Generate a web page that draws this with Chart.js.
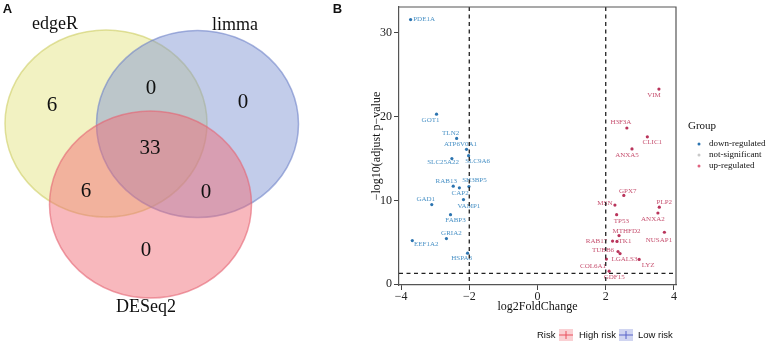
<!DOCTYPE html>
<html><head><meta charset="utf-8">
<script src="https://cdn.jsdelivr.net/npm/chart.js@4.4.1/dist/chart.umd.min.js"></script>
<style>
html,body{margin:0;padding:0;background:#fff;}
#wrap{position:relative;width:769px;height:343px;overflow:hidden;background:#fff;}
</style></head><body>
<div id="wrap">
<div style="position:absolute;left:0;top:0;width:320px;height:343px"><canvas id="venn" width="320" height="343"></canvas></div>
<div style="position:absolute;left:320px;top:0;width:449px;height:343px"><canvas id="volc" width="449" height="343"></canvas></div>
</div>
<script>
// ---------------- DATA ----------------
const vennSets = ['edgeR', 'limma', 'DESeq2'];
// regions: edgeR only, edgeR∩limma, limma only, all three, edgeR∩DESeq2, limma∩DESeq2, DESeq2 only
const vennCounts = [6, 0, 0, 33, 6, 0, 0];

const downGenes = ['PDE1A','GOT1','TLN2','ATP6V0A1','SLC25A22','SLC9A6','RAB13','SH3BP5','CAP2','VAMP1','GAD1','FABP3','GRIA2','EEF1A2','HSPA8'];
const downLogFC = [-3.72,-2.96,-2.37,-2.08,-2.51,-2.02,-2.47,-2.01,-2.29,-2.17,-3.10,-2.55,-2.67,-3.67,-2.05];
const downLogP  = [31.6,20.3,17.4,16.1,15.0,15.35,11.7,11.65,11.5,10.1,9.5,8.3,5.45,5.2,3.7];

const upGenes = ['VIM','H3F3A','CLIC1','ANXA5','GPX7','MSN','PLP2','ANXA2','TP53','MTHFD2','NUSAP1','RAB17','TK1','TUBB6','LGALS3','LYZ','COL6A1','GDF15'];
const upLogFC = [3.56,2.62,3.22,2.77,2.53,2.27,3.57,3.53,2.32,2.39,3.72,2.20,2.33,2.36,2.42,2.98,2.02,2.10];
const upLogP  = [23.3,18.65,17.6,16.15,10.6,9.45,9.2,8.5,8.3,5.8,6.2,5.15,5.1,3.9,3.65,2.95,3.0,1.55];

const xTicks = [-4, -2, 0, 2, 4];
const yTicks = [0, 10, 20, 30];
const fcCutoffs = [-2, 2];
const pCutoff = 1.3;
const groupNames = ['down-regulated', 'not-significant', 'up-regulated'];
const riskNames = ['High risk', 'Low risk'];

// ---------------- LAYOUT / STYLE (not data) ----------------
const downLabelOff = [[13.5,0],[-6,5.5],[-6,-5.5],[-6,-5],[-8.7,4],[9,5.7],[-7,-5],[5.5,-6.3],[0.7,5.7],[5.4,6.7],[-6,-5],[5,5],[5,-5],[14,4],[-6,4.5]];
const upLabelOff = [[-5,6],[-6,-5.7],[5,5.7],[-5,6.4],[4,-4.7],[-10,-2],[5,-5],[-5,6],[4.7,6.7],[7.4,-4.3],[-5.5,8],[-16,0],[8,0],[-15,-1],[4.4,6],[9,6],[-13.4,6.7],[5,6]];
const vennGeom = {
  centers: [[106,123.5],[197.5,124],[150.5,204.5]], rx: 101, ry: 93.5,
  regionPos: [[52,104],[151,87],[243,101],[150,147],[86,190],[206,191],[146,249]],
  labelPos: [[55,28.5],[235,29.5],[146,311.5]]
};
const vennFill = ['rgba(228,228,128,0.48)','rgba(128,148,212,0.48)','rgba(240,106,118,0.48)'];
const vennStroke = ['rgba(205,205,100,0.6)','rgba(110,130,200,0.6)','rgba(228,100,115,0.6)'];
const SERIF = '"Liberation Serif", "Times New Roman", serif';
const SANS = '"Liberation Sans", Arial, sans-serif';

// ---------------- VENN CHART ----------------
const vennPlugin = {
  id: 'vennDraw',
  beforeDatasetsDraw(chart) {
    const {ctx, scales: {x, y}} = chart;
    ctx.save();
    vennGeom.centers.forEach((c, i) => {
      const cx = x.getPixelForValue(c[0]), cy = y.getPixelForValue(c[1]);
      const rx = x.getPixelForValue(c[0] + vennGeom.rx) - cx;
      const ry = y.getPixelForValue(c[1] + vennGeom.ry) - cy;
      ctx.beginPath();
      ctx.ellipse(cx, cy, Math.abs(rx), Math.abs(ry), 0, 0, Math.PI * 2);
      ctx.fillStyle = vennFill[i];
      ctx.fill();
      ctx.lineWidth = 1.5;
      ctx.strokeStyle = vennStroke[i];
      ctx.stroke();
    });
    ctx.restore();
  },
  afterDatasetsDraw(chart) {
    const {ctx, scales: {x, y}} = chart;
    ctx.save();
    ctx.fillStyle = '#111';
    ctx.textAlign = 'center';
    ctx.textBaseline = 'middle';
    ctx.font = '21px ' + SERIF;
    vennCounts.forEach((v, i) => {
      const p = vennGeom.regionPos[i];
      ctx.fillText(String(v), x.getPixelForValue(p[0]), y.getPixelForValue(p[1]) + 1);
    });
    ctx.textBaseline = 'alphabetic';
    ctx.font = '18px ' + SERIF;
    vennSets.forEach((s, i) => {
      const p = vennGeom.labelPos[i];
      ctx.fillText(s, x.getPixelForValue(p[0]), y.getPixelForValue(p[1]));
    });
    ctx.font = 'bold 13px ' + SANS;
    ctx.textBaseline = 'middle';
    ctx.fillText('A', 7.5, 9.5);
    ctx.restore();
  }
};

new Chart(document.getElementById('venn'), {
  type: 'scatter',
  data: { datasets: [{ data: vennGeom.centers.map(c => ({x: c[0], y: c[1]})), pointRadius: 0 }] },
  options: {
    responsive: false, animation: false,
    layout: { padding: 0 },
    plugins: { legend: { display: false }, tooltip: { enabled: false } },
    scales: {
      x: { type: 'linear', min: 0, max: 320, display: false },
      y: { type: 'linear', min: 0, max: 343, reverse: true, display: false }
    }
  },
  plugins: [vennPlugin]
});

// ---------------- VOLCANO CHART ----------------
const downColor = '#2c74b0', upColor = '#b9345b';
const downText = '#4a92c6', upText = '#c6506f';

const fmt = v => v < 0 ? '\u2212' + Math.abs(v) : String(v);
const zeroPad = s => { s.paddingLeft = 0; s.paddingRight = 0; s.paddingTop = 0; s.paddingBottom = 0; };

const volcPlugin = {
  id: 'volcExtras',
  afterDatasetsDraw(chart) {
    const {ctx, chartArea: a, scales: {x, y}} = chart;
    ctx.save();
    ctx.font = '7px ' + SERIF;
    ctx.textAlign = 'center';
    ctx.textBaseline = 'middle';
    const drawLabels = (genes, fc, p, off, col) => {
      ctx.fillStyle = col;
      genes.forEach((g, i) => {
        const px = x.getPixelForValue(fc[i]), py = y.getPixelForValue(p[i]);
        ctx.fillText(g, px + off[i][0], py + off[i][1]);
      });
    };
    drawLabels(downGenes, downLogFC, downLogP, downLabelOff, downText);
    drawLabels(upGenes, upLogFC, upLogP, upLabelOff, upText);
    ctx.strokeStyle = '#222';
    ctx.lineWidth = 1.3;
    ctx.setLineDash([4, 3.5]);
    fcCutoffs.forEach(v => {
      const px = x.getPixelForValue(v);
      ctx.beginPath(); ctx.moveTo(px, a.top); ctx.lineTo(px, a.bottom); ctx.stroke();
    });
    const hy = y.getPixelForValue(pCutoff);
    ctx.beginPath(); ctx.moveTo(a.left, hy); ctx.lineTo(a.right, hy); ctx.stroke();
    ctx.setLineDash([]);
    ctx.strokeStyle = '#555';
    ctx.lineWidth = 1.2;
    ctx.beginPath();
    ctx.moveTo(a.left, a.top); ctx.lineTo(a.right, a.top); ctx.lineTo(a.right, a.bottom);
    ctx.stroke();
    ctx.restore();
  },
  afterDraw(chart) {
    const {ctx} = chart;
    ctx.save();
    ctx.fillStyle = '#111';
    ctx.font = 'bold 13px ' + SANS;
    ctx.textAlign = 'center'; ctx.textBaseline = 'middle';
    ctx.fillText('B', 17.5, 9.5);
    ctx.textAlign = 'left';
    ctx.font = '11px ' + SERIF;
    ctx.fillStyle = '#111';
    ctx.fillText('Group', 368, 126);
    const legCols = [downColor, '#c9c9c9', '#e0637f'];
    ctx.font = '9px ' + SERIF;
    groupNames.forEach((n, i) => {
      const yy = 144 + i * 11;
      ctx.beginPath(); ctx.arc(379, yy, 1.5, 0, Math.PI * 2);
      ctx.fillStyle = legCols[i]; ctx.fill();
      ctx.fillStyle = '#111';
      ctx.fillText(n, 389, yy);
    });
    ctx.font = '9.5px ' + SANS;
    ctx.fillStyle = '#111';
    ctx.fillText('Risk', 217, 335);
    const riskKey = [[239, 'rgba(240,120,130,0.35)', '#e8505f'], [299, 'rgba(120,135,215,0.35)', '#5865c8']];
    const riskText = [259, 318];
    riskNames.forEach((n, i) => {
      const [kx, bg, fg] = riskKey[i];
      ctx.fillStyle = bg;
      ctx.fillRect(kx, 329, 14, 12);
      ctx.strokeStyle = fg; ctx.lineWidth = 1;
      ctx.beginPath(); ctx.moveTo(kx, 335); ctx.lineTo(kx + 14, 335);
      ctx.moveTo(kx + 7, 331); ctx.lineTo(kx + 7, 339); ctx.stroke();
      ctx.fillStyle = '#111';
      ctx.fillText(n, riskText[i], 335);
    });
    ctx.restore();
  }
};

new Chart(document.getElementById('volc'), {
  type: 'scatter',
  data: {
    datasets: [
      { label: groupNames[0], data: downGenes.map((g, i) => ({x: downLogFC[i], y: downLogP[i]})),
        backgroundColor: downColor, borderWidth: 0, pointRadius: 1.6 },
      { label: groupNames[2], data: upGenes.map((g, i) => ({x: upLogFC[i], y: upLogP[i]})),
        backgroundColor: upColor, borderWidth: 0, pointRadius: 1.6 }
    ]
  },
  options: {
    responsive: false, animation: false,
    layout: { padding: { top: 7, right: 93, bottom: 0, left: 0 } },
    plugins: { legend: { display: false }, tooltip: { enabled: false } },
    scales: {
      x: {
        type: 'linear', min: -4.06, max: 4.06,
        afterBuildTicks: s => { s.ticks = xTicks.map(v => ({value: v})); },
        afterFit: s => { s.height = 58; zeroPad(s); },
        grid: { drawOnChartArea: false, drawTicks: true, tickLength: 5, color: '#444', lineWidth: 1 },
        border: { display: true, color: '#555', width: 1.2 },
        ticks: { font: { family: SERIF, size: 12 }, color: '#222', padding: 0, maxRotation: 0, autoSkip: false, callback: v => fmt(v) },
        title: { display: true, text: 'log2FoldChange', font: { family: SERIF, size: 12 }, color: '#111', padding: { top: 0, bottom: 29 } }
      },
      y: {
        type: 'linear', min: -0.1, max: 33.1,
        afterBuildTicks: s => { s.ticks = yTicks.map(v => ({value: v})); },
        afterFit: s => { s.width = 79; zeroPad(s); },
        grid: { drawOnChartArea: false, drawTicks: true, tickLength: 5, color: '#444', lineWidth: 1 },
        border: { display: true, color: '#555', width: 1.2 },
        ticks: { font: { family: SERIF, size: 12 }, color: '#222', padding: 2, autoSkip: false, callback: v => fmt(v) },
        title: { display: true, text: '\u2212log10(adjust p\u2212value', font: { family: SERIF, size: 12 }, color: '#111', padding: { top: 50, bottom: 0 } }
      }
    }
  },
  plugins: [volcPlugin]
});
</script>
</body></html>
